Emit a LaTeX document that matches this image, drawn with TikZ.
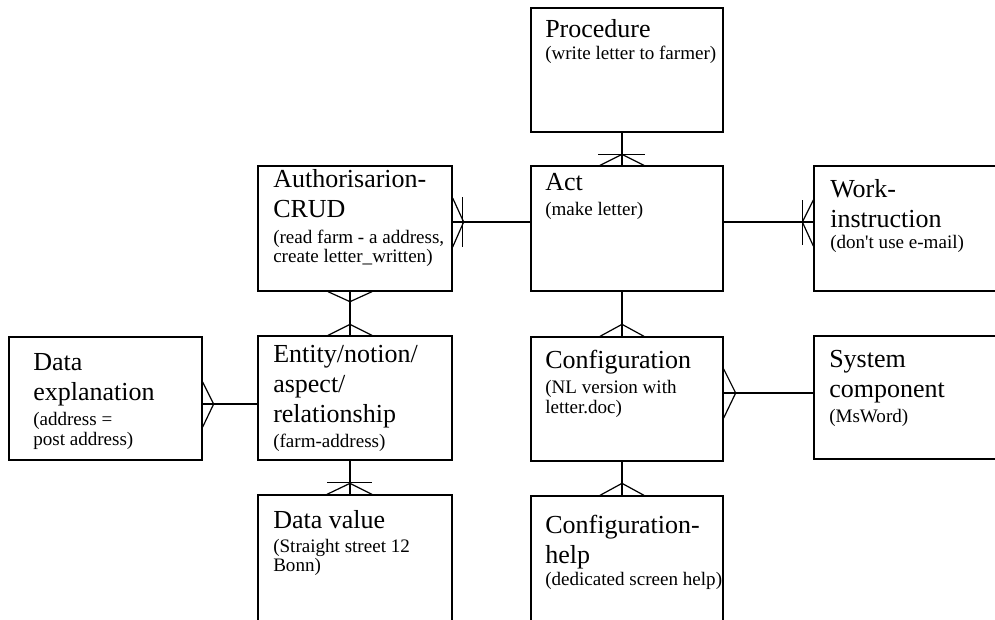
\documentclass[tikz,border=0pt]{standalone}
\usepackage{fontspec}
\setmainfont{Liberation Serif}
\usetikzlibrary{fit,calc}
\tikzset{
  box/.style={draw, line width=1pt, inner sep=0pt},
  bigt/.style={anchor=base west, inner sep=0pt, font=\fontsize{19.5pt}{22pt}\selectfont},
  smallt/.style={anchor=base west, inner sep=0pt, font=\fontsize{14.3pt}{16pt}\selectfont},
  link/.style={line width=0.9pt},
}
\begin{document}
\begin{tikzpicture}[x=0.75pt,y=-0.75pt]
\useasboundingbox (0,0) rectangle (995,619);
\clip (0,0) rectangle (995,619);

% boxes
\node[box, fit={(531,8) (723,132)}] (proc) {};
\node[box, fit={(531,166) (723,291)}] (act) {};
\node[box, fit={(258,166) (452,291)}] (crud) {};
\node[box, fit={(814,166) (1010,291)}] (work) {};
\node[box, fit={(9,337) (202,460)}] (dexp) {};
\node[box, fit={(258,336) (452,460)}] (ent) {};
\node[box, fit={(531,337) (723,461)}] (conf) {};
\node[box, fit={(814,336) (1010,459)}] (sys) {};
\node[box, fit={(258,495) (452,640)}] (dval) {};
\node[box, fit={(531,496) (723,640)}] (chelp) {};

% texts
\node[bigt] (procA) at (545,37) {Procedure};
\node[smallt] (procB) at (545,59) {(write letter to farmer)};

\node[bigt] (actA) at (545,190) {Act};
\node[smallt] (actB) at (545,215) {(make letter)};

\node[bigt] (crudA) at (273,187) {Authorisarion-};
\node[bigt] (crudB) at (273,217) {CRUD};
\node[smallt] (crudC) at (273,243) {(read farm - a address,};
\node[smallt] (crudD) at (273,262) {create letter\_written)};

\node[bigt] (workA) at (830,197) {Work-};
\node[bigt] (workB) at (830,227) {instruction};
\node[smallt] (workC) at (830,248) {(don\textquotesingle t use e-mail)};

\node[bigt] (dexpA) at (33,370) {Data};
\node[bigt] (dexpB) at (33,400) {explanation};
\node[smallt] (dexpC) at (33,425) {(address =};
\node[smallt] (dexpD) at (33,445) {post address)};

\node[bigt] (entA) at (273,362) {Entity/notion/};
\node[bigt] (entB) at (273,392) {aspect/};
\node[bigt] (entC) at (273,422) {relationship};
\node[smallt] (entD) at (273,447) {(farm-address)};

\node[bigt] (confA) at (545,368) {Configuration};
\node[smallt] (confB) at (545,393) {(NL version with};
\node[smallt] (confC) at (545,413) {letter.doc)};

\node[bigt] (sysA) at (829,367) {System};
\node[bigt] (sysB) at (829,397) {component};
\node[smallt] (sysC) at (829,422) {(MsWord)};

\node[bigt] (dvalA) at (273,528) {Data value};
\node[smallt] (dvalB) at (273,552) {(Straight street 12};
\node[smallt] (dvalC) at (273,571) {Bonn)};

\node[bigt] (chelpA) at (545,533) {Configuration-};
\node[bigt] (chelpB) at (545,563) {help};
\node[smallt] (chelpC) at (545,585) {(dedicated screen help)};

% connector guides
\coordinate (cxR) at (622,0);
\coordinate (cxL) at (350,0);
\coordinate (cyT) at (0,222);
\coordinate (cyE) at (0,404);
\coordinate (cyC) at (0,393);

% procedure - act
\draw[link] (proc.south -| cxR) -- (act.north -| cxR);
\draw[link] ($(act.north -| cxR)+(-22,0)$) -- ++(22,-11) -- ++(22,11);
\draw[link] ($(act.north -| cxR)+(-24,-11)$) -- ++(47,0);

% crud - act
\draw[link] (crud.east |- cyT) -- (act.west |- cyT);
\draw[link] ($(crud.east |- cyT)+(0,-24)$) -- ++(11,24) -- ++(-11,25);
\draw[link] ($(crud.east |- cyT)+(10,-25)$) -- ++(0,50);

% act - work
\draw[link] (act.east |- cyT) -- (work.west |- cyT);
\draw[link] ($(work.west |- cyT)+(0,-22)$) -- ++(-11,22) -- ++(11,24);
\draw[link] ($(work.west |- cyT)+(-11,-22)$) -- ++(0,45);

% crud - entity
\draw[link] (crud.south -| cxL) -- (ent.north -| cxL);
\draw[link] ($(crud.south -| cxL)+(-22,0)$) -- ++(22,10) -- ++(22,-10);
\draw[link] ($(ent.north -| cxL)+(-22,0)$) -- ++(22,-11) -- ++(22,11);

% data explanation - entity
\draw[link] (dexp.east |- cyE) -- (ent.west |- cyE);
\draw[link] ($(dexp.east |- cyE)+(0,-22)$) -- ++(11,22) -- ++(-11,23);

% act - configuration
\draw[link] (act.south -| cxR) -- (conf.north -| cxR);
\draw[link] ($(conf.north -| cxR)+(-22,0)$) -- ++(22,-12) -- ++(22,12);

% configuration - system component
\draw[link] (conf.east |- cyC) -- (sys.west |- cyC);
\draw[link] ($(conf.east |- cyC)+(0,-24)$) -- ++(12,24) -- ++(-12,25);

% entity - data value
\draw[link] (ent.south -| cxL) -- (dval.north -| cxL);
\draw[link] ($(dval.north -| cxL)+(-23,0)$) -- ++(23,-11) -- ++(22,11);
\draw[link] ($(dval.north -| cxL)+(-23,-12)$) -- ++(45,0);

% configuration - configuration help
\draw[link] (conf.south -| cxR) -- (chelp.north -| cxR);
\draw[link] ($(chelp.north -| cxR)+(-22,0)$) -- ++(22,-12) -- ++(22,12);
\end{tikzpicture}
\end{document}
